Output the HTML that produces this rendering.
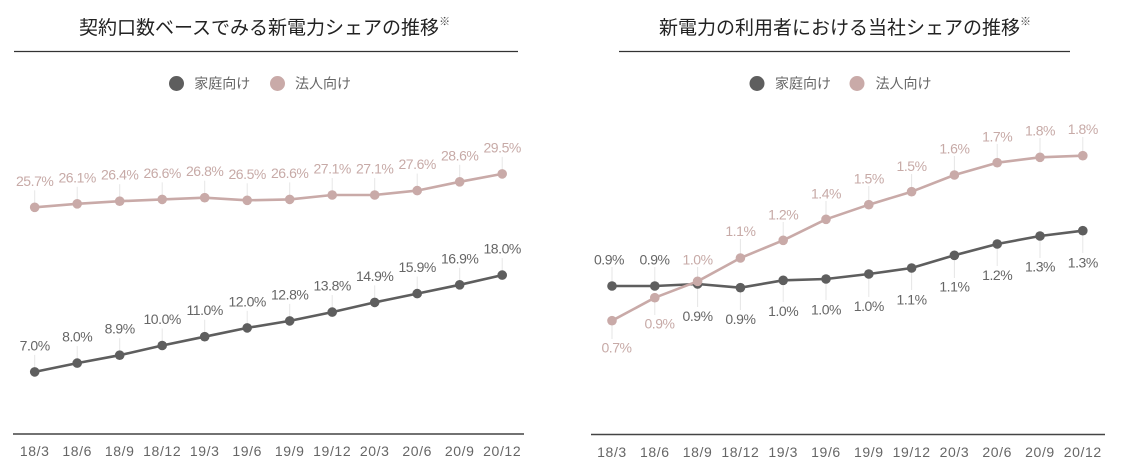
<!DOCTYPE html>
<html>
<head>
<meta charset="utf-8">
<style>
html,body{margin:0;padding:0;background:#fff;}
body{width:1129px;height:470px;overflow:hidden;}
svg{display:block;}
.title{font-family:"Liberation Sans","Noto Sans CJK JP",sans-serif;font-size:19px;fill:#222;}
.sup{font-family:"Liberation Sans","Noto Sans CJK JP",sans-serif;font-size:11px;fill:#444;}
.leg{font-family:"Liberation Sans","Noto Sans CJK JP",sans-serif;font-size:14px;fill:#666;}
.tick{font-family:"Liberation Sans",sans-serif;font-size:14px;fill:#666;letter-spacing:0.6px;}
.ld{font-family:"Liberation Sans",sans-serif;font-size:14px;fill:#666;letter-spacing:-0.45px;}
.lp{font-family:"Liberation Sans",sans-serif;font-size:14px;fill:#c7aaa7;letter-spacing:-0.45px;}
.lead{stroke:#e6e6e6;stroke-width:1;}
</style>
</head>
<body>
<svg width="1129" height="470" viewBox="0 0 1129 470" xmlns="http://www.w3.org/2000/svg">
<!-- ================= LEFT CHART ================= -->
<text class="title" x="79" y="34">契約口数ベースでみる新電力シェアの推移<tspan class="sup" dy="-9">※</tspan></text>
<line x1="14" y1="51.5" x2="518" y2="51.5" stroke="#333" stroke-width="1.2"/>
<circle cx="176.5" cy="83.5" r="7.5" fill="#5e5e5e"/>
<text class="leg" x="194.3" y="88.6">家庭向け</text>
<circle cx="277.5" cy="83.5" r="7.5" fill="#c9aaa8"/>
<text class="leg" x="295" y="88.6">法人向け</text>

<!-- leaders left -->
<g class="lead">
<line x1="34.7" y1="354.9" x2="34.7" y2="371.9"/>
<line x1="77.2" y1="346.1" x2="77.2" y2="363.1"/>
<line x1="119.7" y1="338.2" x2="119.7" y2="355.2"/>
<line x1="162.2" y1="328.5" x2="162.2" y2="345.5"/>
<line x1="204.7" y1="319.7" x2="204.7" y2="336.7"/>
<line x1="247.2" y1="310.9" x2="247.2" y2="327.9"/>
<line x1="289.7" y1="303.9" x2="289.7" y2="320.9"/>
<line x1="332.2" y1="295.1" x2="332.2" y2="312.1"/>
<line x1="374.7" y1="285.4" x2="374.7" y2="302.4"/>
<line x1="417.2" y1="276.6" x2="417.2" y2="293.6"/>
<line x1="459.7" y1="267.8" x2="459.7" y2="284.8"/>
<line x1="502.2" y1="258.1" x2="502.2" y2="275.1"/>
<line x1="34.7" y1="190.3" x2="34.7" y2="207.3"/>
<line x1="77.2" y1="186.8" x2="77.2" y2="203.8"/>
<line x1="119.7" y1="184.2" x2="119.7" y2="201.2"/>
<line x1="162.2" y1="182.4" x2="162.2" y2="199.4"/>
<line x1="204.7" y1="180.7" x2="204.7" y2="197.7"/>
<line x1="247.2" y1="183.3" x2="247.2" y2="200.3"/>
<line x1="289.7" y1="182.4" x2="289.7" y2="199.4"/>
<line x1="332.2" y1="178" x2="332.2" y2="195"/>
<line x1="374.7" y1="178" x2="374.7" y2="195"/>
<line x1="417.2" y1="173.6" x2="417.2" y2="190.6"/>
<line x1="459.7" y1="164.8" x2="459.7" y2="181.8"/>
<line x1="502.2" y1="156.9" x2="502.2" y2="173.9"/>
</g>

<polyline fill="none" stroke="#5e5e5e" stroke-width="2.6" stroke-linejoin="round" points="34.7,371.9 77.2,363.1 119.7,355.2 162.2,345.5 204.7,336.7 247.2,327.9 289.7,320.9 332.2,312.1 374.7,302.4 417.2,293.6 459.7,284.8 502.2,275.1"/>
<g fill="#5e5e5e">
<circle cx="34.7" cy="371.9" r="4.8"/><circle cx="77.2" cy="363.1" r="4.8"/><circle cx="119.7" cy="355.2" r="4.8"/><circle cx="162.2" cy="345.5" r="4.8"/><circle cx="204.7" cy="336.7" r="4.8"/><circle cx="247.2" cy="327.9" r="4.8"/><circle cx="289.7" cy="320.9" r="4.8"/><circle cx="332.2" cy="312.1" r="4.8"/><circle cx="374.7" cy="302.4" r="4.8"/><circle cx="417.2" cy="293.6" r="4.8"/><circle cx="459.7" cy="284.8" r="4.8"/><circle cx="502.2" cy="275.1" r="4.8"/>
</g>
<polyline fill="none" stroke="#c9aaa8" stroke-width="2.6" stroke-linejoin="round" points="34.7,207.3 77.2,203.8 119.7,201.2 162.2,199.4 204.7,197.7 247.2,200.3 289.7,199.4 332.2,195 374.7,195 417.2,190.6 459.7,181.8 502.2,173.9"/>
<g fill="#c9aaa8">
<circle cx="34.7" cy="207.3" r="4.8"/><circle cx="77.2" cy="203.8" r="4.8"/><circle cx="119.7" cy="201.2" r="4.8"/><circle cx="162.2" cy="199.4" r="4.8"/><circle cx="204.7" cy="197.7" r="4.8"/><circle cx="247.2" cy="200.3" r="4.8"/><circle cx="289.7" cy="199.4" r="4.8"/><circle cx="332.2" cy="195" r="4.8"/><circle cx="374.7" cy="195" r="4.8"/><circle cx="417.2" cy="190.6" r="4.8"/><circle cx="459.7" cy="181.8" r="4.8"/><circle cx="502.2" cy="173.9" r="4.8"/>
</g>

<g text-anchor="middle">
<text class="ld" x="34.7" y="350.4">7.0%</text>
<text class="ld" x="77.2" y="341.6">8.0%</text>
<text class="ld" x="119.7" y="333.7">8.9%</text>
<text class="ld" x="162.2" y="324">10.0%</text>
<text class="ld" x="204.7" y="315.2">11.0%</text>
<text class="ld" x="247.2" y="306.4">12.0%</text>
<text class="ld" x="289.7" y="299.4">12.8%</text>
<text class="ld" x="332.2" y="290.6">13.8%</text>
<text class="ld" x="374.7" y="280.9">14.9%</text>
<text class="ld" x="417.2" y="272.1">15.9%</text>
<text class="ld" x="459.7" y="263.3">16.9%</text>
<text class="ld" x="502.2" y="253.6">18.0%</text>
<text class="lp" x="34.7" y="185.8">25.7%</text>
<text class="lp" x="77.2" y="182.3">26.1%</text>
<text class="lp" x="119.7" y="179.7">26.4%</text>
<text class="lp" x="162.2" y="177.9">26.6%</text>
<text class="lp" x="204.7" y="176.2">26.8%</text>
<text class="lp" x="247.2" y="178.8">26.5%</text>
<text class="lp" x="289.7" y="177.9">26.6%</text>
<text class="lp" x="332.2" y="173.5">27.1%</text>
<text class="lp" x="374.7" y="173.5">27.1%</text>
<text class="lp" x="417.2" y="169.1">27.6%</text>
<text class="lp" x="459.7" y="160.3">28.6%</text>
<text class="lp" x="502.2" y="152.4">29.5%</text>
</g>

<line x1="13" y1="434" x2="524" y2="434" stroke="#444" stroke-width="1.4"/>
<g text-anchor="middle">
<text class="tick" x="34.7" y="456">18/3</text>
<text class="tick" x="77.2" y="456">18/6</text>
<text class="tick" x="119.7" y="456">18/9</text>
<text class="tick" x="162.2" y="456">18/12</text>
<text class="tick" x="204.7" y="456">19/3</text>
<text class="tick" x="247.2" y="456">19/6</text>
<text class="tick" x="289.7" y="456">19/9</text>
<text class="tick" x="332.2" y="456">19/12</text>
<text class="tick" x="374.7" y="456">20/3</text>
<text class="tick" x="417.2" y="456">20/6</text>
<text class="tick" x="459.7" y="456">20/9</text>
<text class="tick" x="502.2" y="456">20/12</text>
</g>

<!-- ================= RIGHT CHART ================= -->
<text class="title" x="659" y="34">新電力の利用者における当社シェアの推移<tspan class="sup" dy="-9">※</tspan></text>
<line x1="619" y1="51.5" x2="1070" y2="51.5" stroke="#333" stroke-width="1.2"/>
<circle cx="757" cy="83.5" r="7.5" fill="#5e5e5e"/>
<text class="leg" x="775" y="88.6">家庭向け</text>
<circle cx="857" cy="83.5" r="7.5" fill="#c9aaa8"/>
<text class="leg" x="875.5" y="88.6">法人向け</text>

<g class="lead">
<!-- dark -->
<line x1="612" y1="267" x2="612" y2="286"/>
<line x1="654.8" y1="267" x2="654.8" y2="286"/>
<line x1="697.6" y1="284" x2="697.6" y2="307"/>
<line x1="740.4" y1="287.7" x2="740.4" y2="310"/>
<line x1="783.2" y1="280.3" x2="783.2" y2="302"/>
<line x1="826" y1="279" x2="826" y2="300"/>
<line x1="868.8" y1="274" x2="868.8" y2="297"/>
<line x1="911.6" y1="268" x2="911.6" y2="290"/>
<line x1="954.4" y1="255.3" x2="954.4" y2="278"/>
<line x1="997.2" y1="244" x2="997.2" y2="266"/>
<line x1="1040" y1="236" x2="1040" y2="258"/>
<line x1="1082.8" y1="230.7" x2="1082.8" y2="253"/>
<!-- pink -->
<line x1="612" y1="320.7" x2="612" y2="339"/>
<line x1="654.8" y1="297.7" x2="654.8" y2="315"/>
<line x1="697.6" y1="267" x2="697.6" y2="281.3"/>
<line x1="740.4" y1="239" x2="740.4" y2="258"/>
<line x1="783.2" y1="222" x2="783.2" y2="240.3"/>
<line x1="826" y1="201" x2="826" y2="219.3"/>
<line x1="868.8" y1="186" x2="868.8" y2="204.7"/>
<line x1="911.6" y1="174" x2="911.6" y2="191.7"/>
<line x1="954.4" y1="156" x2="954.4" y2="175"/>
<line x1="997.2" y1="144" x2="997.2" y2="162.7"/>
<line x1="1040" y1="138" x2="1040" y2="157.3"/>
<line x1="1082.8" y1="137" x2="1082.8" y2="155.7"/>
</g>

<polyline fill="none" stroke="#5e5e5e" stroke-width="2.6" stroke-linejoin="round" points="612,286 654.8,286 697.6,284 740.4,287.7 783.2,280.3 826,279 868.8,274 911.6,268 954.4,255.3 997.2,244 1040,236 1082.8,230.7"/>
<g fill="#5e5e5e">
<circle cx="612" cy="286" r="4.8"/><circle cx="654.8" cy="286" r="4.8"/><circle cx="697.6" cy="284" r="4.8"/><circle cx="740.4" cy="287.7" r="4.8"/><circle cx="783.2" cy="280.3" r="4.8"/><circle cx="826" cy="279" r="4.8"/><circle cx="868.8" cy="274" r="4.8"/><circle cx="911.6" cy="268" r="4.8"/><circle cx="954.4" cy="255.3" r="4.8"/><circle cx="997.2" cy="244" r="4.8"/><circle cx="1040" cy="236" r="4.8"/><circle cx="1082.8" cy="230.7" r="4.8"/>
</g>
<polyline fill="none" stroke="#c9aaa8" stroke-width="2.6" stroke-linejoin="round" points="612,320.7 654.8,297.7 697.6,281.3 740.4,258 783.2,240.3 826,219.3 868.8,204.7 911.6,191.7 954.4,175 997.2,162.7 1040,157.3 1082.8,155.7"/>
<g fill="#c9aaa8">
<circle cx="612" cy="320.7" r="4.8"/><circle cx="654.8" cy="297.7" r="4.8"/><circle cx="697.6" cy="281.3" r="4.8"/><circle cx="740.4" cy="258" r="4.8"/><circle cx="783.2" cy="240.3" r="4.8"/><circle cx="826" cy="219.3" r="4.8"/><circle cx="868.8" cy="204.7" r="4.8"/><circle cx="911.6" cy="191.7" r="4.8"/><circle cx="954.4" cy="175" r="4.8"/><circle cx="997.2" cy="162.7" r="4.8"/><circle cx="1040" cy="157.3" r="4.8"/><circle cx="1082.8" cy="155.7" r="4.8"/>
</g>

<g text-anchor="middle">
<text class="ld" x="609" y="264.3">0.9%</text>
<text class="ld" x="654.5" y="264.3">0.9%</text>
<text class="ld" x="697.6" y="321">0.9%</text>
<text class="ld" x="740.4" y="324">0.9%</text>
<text class="ld" x="783.2" y="316">1.0%</text>
<text class="ld" x="826" y="314.3">1.0%</text>
<text class="ld" x="868.8" y="311">1.0%</text>
<text class="ld" x="911.6" y="304.3">1.1%</text>
<text class="ld" x="954.4" y="291.7">1.1%</text>
<text class="ld" x="997.2" y="280">1.2%</text>
<text class="ld" x="1040" y="271.7">1.3%</text>
<text class="ld" x="1082.8" y="267.3">1.3%</text>
<text class="lp" x="616.5" y="352.7">0.7%</text>
<text class="lp" x="659.5" y="328.3">0.9%</text>
<text class="lp" x="697.6" y="264.3">1.0%</text>
<text class="lp" x="740.4" y="236">1.1%</text>
<text class="lp" x="783.2" y="219.3">1.2%</text>
<text class="lp" x="826" y="198.3">1.4%</text>
<text class="lp" x="868.8" y="183.3">1.5%</text>
<text class="lp" x="911.6" y="171">1.5%</text>
<text class="lp" x="954.4" y="153.3">1.6%</text>
<text class="lp" x="997.2" y="141.7">1.7%</text>
<text class="lp" x="1040" y="135.7">1.8%</text>
<text class="lp" x="1082.8" y="134">1.8%</text>
</g>

<line x1="591" y1="434.5" x2="1105" y2="434.5" stroke="#444" stroke-width="1.4"/>
<g text-anchor="middle">
<text class="tick" x="612" y="457">18/3</text>
<text class="tick" x="654.8" y="457">18/6</text>
<text class="tick" x="697.6" y="457">18/9</text>
<text class="tick" x="740.4" y="457">18/12</text>
<text class="tick" x="783.2" y="457">19/3</text>
<text class="tick" x="826" y="457">19/6</text>
<text class="tick" x="868.8" y="457">19/9</text>
<text class="tick" x="911.6" y="457">19/12</text>
<text class="tick" x="954.4" y="457">20/3</text>
<text class="tick" x="997.2" y="457">20/6</text>
<text class="tick" x="1040" y="457">20/9</text>
<text class="tick" x="1082.8" y="457">20/12</text>
</g>
</svg>
</body>
</html>
